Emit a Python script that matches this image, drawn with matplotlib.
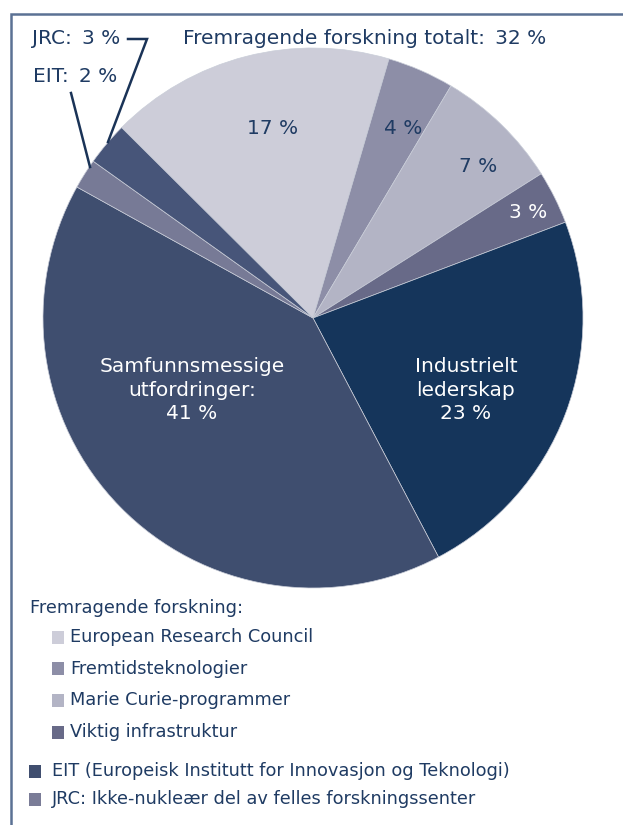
import matplotlib
matplotlib.use("Agg")
import matplotlib.pyplot as plt
from matplotlib.patches import Rectangle

# Shares of the budget (percent), clockwise from the top-left
segments = ["European Research Council", "Fremtidsteknologier", "Marie Curie-programmer",
            "Viktig infrastruktur", "Industrielt lederskap", "Samfunnsmessige utfordringer",
            "EIT", "JRC"]
shares = [17.1, 4.0, 7.5, 3.2, 23.1, 40.8, 1.8, 2.6]
slice_colors = ["#cdcdd9", "#8d8ea7", "#b3b4c5", "#686a88", "#15355b", "#3f4e6f", "#777a96", "#475579"]

slice_labels = ["17 %", "4 %", "7 %", "3 %", "Industrielt\nlederskap\n23 %",
                "Samfunnsmessige\nutfordringer:\n41 %", "", ""]
label_colors = ["#1f3b63", "#1f3b63", "#1f3b63", "white", "white", "white", "white", "white"]

legend_head = "Fremragende forskning:"
legend_sub = ["European Research Council", "Fremtidsteknologier", "Marie Curie-programmer", "Viktig infrastruktur"]
legend_sub_colors = ["#cdcdd9", "#8d8ea7", "#b3b4c5", "#686a88"]
legend_main = ["EIT (Europeisk Institutt for Innovasjon og Teknologi)", "JRC: Ikke-nukleær del av felles forskningssenter"]
legend_main_colors = ["#404e6f", "#7a7c97"]

TXT = "#1f3b63"
W, H = 623, 825
FS = 14.5      # labels round the pie
FS_LEG = 12.8  # legend
SP = "\u2002"  # wide space after colons, as in the original

fig = plt.figure(figsize=(W / 100, H / 100), dpi=100)
ax = fig.add_axes([0, 0, 1, 1])

cx, cy, r = 313, H - 318, 270
wedges, _ = ax.pie(shares, colors=slice_colors, startangle=135.15, counterclock=False,
                   center=(cx, cy), radius=r,
                   wedgeprops=dict(edgecolor="#c9cdd8", linewidth=0.5))
ax.set_xlim(0, W)
ax.set_ylim(0, H)
ax.set_aspect("auto")
ax.axis("off")

# labels inside slices (image pixel positions)
label_pos = [(273, 128), (403, 128), (478, 167), (528, 212), (466, 390), (192, 390), None, None]
for txt, pos, col in zip(slice_labels, label_pos, label_colors):
    if pos is None or not txt:
        continue
    ax.text(pos[0], H - pos[1], txt, ha="center", va="center", fontsize=FS, color=col,
            linespacing=1.32)

# outer labels and leader lines
ax.text(365, H - 39, "Fremragende forskning totalt:" + SP + "32 %", ha="center", va="center",
        fontsize=FS, color=TXT)
ax.text(32, H - 39, "JRC:" + SP + "3 %", ha="left", va="center", fontsize=FS, color=TXT)
ax.text(33, H - 77, "EIT:" + SP + "2 %", ha="left", va="center", fontsize=FS, color=TXT)
ax.plot([128, 147, 108], [H - 39, H - 39, H - 142], color="#1a3357", lw=1.8,
        solid_joinstyle="miter")
ax.plot([71, 90], [H - 93, H - 167], color="#1a3357", lw=1.8)

# frame
ax.plot([11, 11, W], [0, H - 14, H - 14], color="#5b7194", lw=1.8, solid_joinstyle="miter")

# legend
ax.text(30, H - 608, legend_head, ha="left", va="center", fontsize=FS_LEG, color=TXT)
for i, (lab, col) in enumerate(zip(legend_sub, legend_sub_colors)):
    y = 637 + i * 31.7
    ax.add_patch(Rectangle((52, H - y - 6.5), 12, 13, color=col, lw=0))
    ax.text(70, H - y, lab, ha="left", va="center", fontsize=FS_LEG, color=TXT)
for i, (lab, col) in enumerate(zip(legend_main, legend_main_colors)):
    y = 771 + i * 28.5
    ax.add_patch(Rectangle((29, H - y - 6.5), 12, 13, color=col, lw=0))
    ax.text(52, H - y, lab, ha="left", va="center", fontsize=FS_LEG, color=TXT)

fig.savefig("out.png", dpi=100)
